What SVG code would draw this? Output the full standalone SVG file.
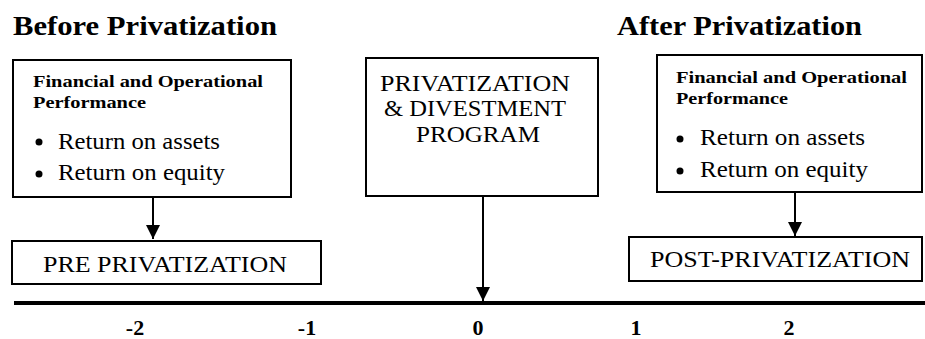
<svg xmlns="http://www.w3.org/2000/svg" width="925" height="339" viewBox="0 0 925 339">
<defs>
<style>
text{font-family:"Liberation Serif","Times New Roman",serif;fill:#000}
.h{font-size:27px;font-weight:bold}
.sub{font-size:17px;font-weight:bold}
.t{font-size:23px}
.n{font-size:22px;font-weight:bold;text-anchor:middle}
.box{fill:#fff;stroke:#000;stroke-width:2}
.conn{stroke:#000;stroke-width:2;fill:none}
</style>
<marker id="ah" viewBox="0 0 10 10" refX="10" refY="5" markerWidth="14" markerHeight="14" markerUnits="userSpaceOnUse" orient="auto">
<path d="M0,0 L10,5 L0,10 z" fill="#000"/>
</marker>
</defs>
<rect width="925" height="339" fill="#fff"/>
<text class="h" x="13" y="35" textLength="264" lengthAdjust="spacingAndGlyphs">Before Privatization</text>
<text class="h" x="617" y="35" textLength="245" lengthAdjust="spacingAndGlyphs">After Privatization</text>

<g id="pre-box">
<rect class="box" x="13" y="60" width="278" height="137"/>
<text class="sub" x="33" y="87" textLength="230" lengthAdjust="spacingAndGlyphs">Financial and Operational</text>
<text class="sub" x="33" y="108" textLength="113" lengthAdjust="spacingAndGlyphs">Performance</text>
<circle cx="39" cy="142" r="3.5"/>
<text class="t" x="58" y="149" textLength="162" lengthAdjust="spacingAndGlyphs">Return on assets</text>
<circle cx="39" cy="174" r="3.5"/>
<text class="t" x="58" y="180" textLength="167" lengthAdjust="spacingAndGlyphs">Return on equity</text>
</g>

<g id="program">
<rect class="box" x="366" y="58" width="232" height="138"/>
<text class="t" x="475" y="91" text-anchor="middle" textLength="190" lengthAdjust="spacingAndGlyphs">PRIVATIZATION</text>
<text class="t" x="475" y="116" text-anchor="middle" textLength="182" lengthAdjust="spacingAndGlyphs">&amp; DIVESTMENT</text>
<text class="t" x="478" y="142" text-anchor="middle" textLength="124" lengthAdjust="spacingAndGlyphs">PROGRAM</text>
</g>

<g id="post-box">
<rect class="box" x="657" y="55" width="265" height="137"/>
<text class="sub" x="676" y="83" textLength="231" lengthAdjust="spacingAndGlyphs">Financial and Operational</text>
<text class="sub" x="676" y="104" textLength="112" lengthAdjust="spacingAndGlyphs">Performance</text>
<circle cx="680" cy="139" r="3.5"/>
<text class="t" x="700" y="145" textLength="165" lengthAdjust="spacingAndGlyphs">Return on assets</text>
<circle cx="680" cy="171" r="3.5"/>
<text class="t" x="700" y="177" textLength="168" lengthAdjust="spacingAndGlyphs">Return on equity</text>
</g>

<g id="pre-privatization">
<rect class="box" x="12" y="241" width="309" height="43"/>
<text class="t" x="43" y="272" textLength="244" lengthAdjust="spacingAndGlyphs">PRE PRIVATIZATION</text>
</g>

<g id="post-privatization">
<rect class="box" x="629" y="237" width="293" height="44"/>
<text class="t" x="650" y="267" textLength="260" lengthAdjust="spacingAndGlyphs">POST-PRIVATIZATION</text>
</g>

<g id="timeline">
<line x1="14" y1="303" x2="925" y2="303" stroke="#000" stroke-width="4"/>
<text class="n" x="135" y="335">-2</text>
<text class="n" x="307" y="335">-1</text>
<text class="n" x="478" y="335">0</text>
<text class="n" x="636" y="335">1</text>
<text class="n" x="789" y="335">2</text>
</g>

<g id="connectors">
<line class="conn" x1="153" y1="197" x2="153" y2="239" marker-end="url(#ah)"/>
<line class="conn" x1="483" y1="196" x2="483" y2="301" marker-end="url(#ah)"/>
<line class="conn" x1="795" y1="192" x2="795" y2="236" marker-end="url(#ah)"/>
</g>
</svg>
